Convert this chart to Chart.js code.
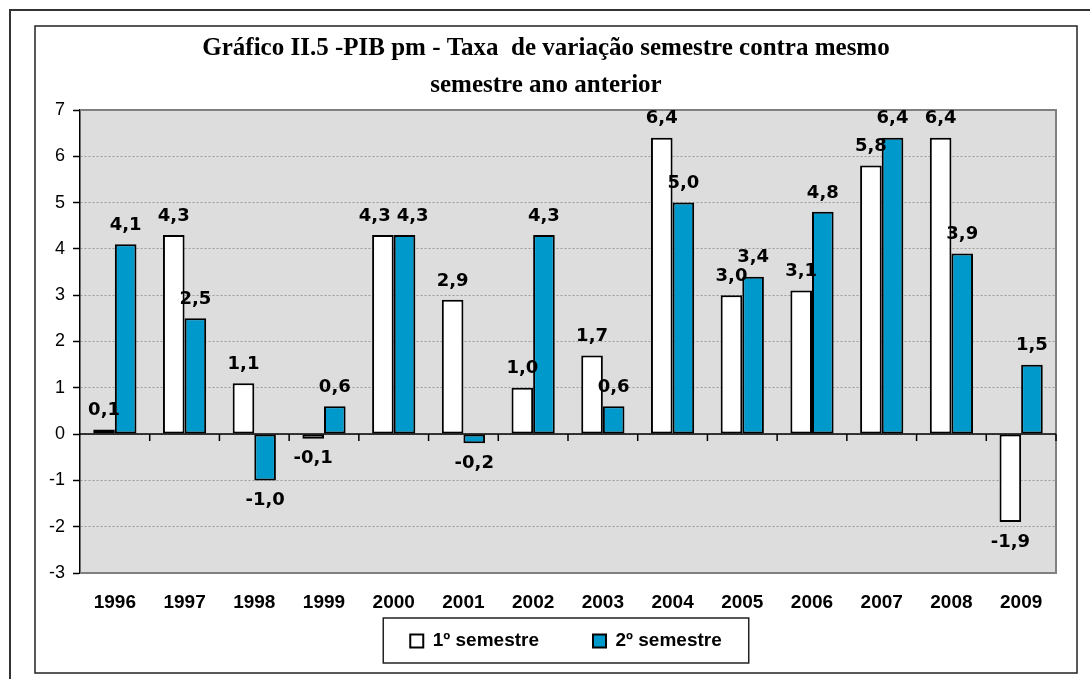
<!DOCTYPE html>
<html>
<head>
<meta charset="utf-8">
<title>PIB pm - Taxa de variação semestral</title>
<script src="https://cdn.jsdelivr.net/npm/chart.js@4/dist/chart.umd.min.js"></script>
<style>
  html, body { margin: 0; padding: 0; background: #fff; }
  #wrap { width: 1090px; height: 679px; }
</style>
</head>
<body>
<div id="wrap"><canvas id="pibChart" width="1090" height="679"></canvas></div>
<script>
// Data
const years = ['1996', '1997', '1998', '1999', '2000', '2001', '2002', '2003', '2004', '2005', '2006', '2007', '2008', '2009'];
const sem1 = [0.1, 4.3, 1.1, -0.1, 4.3, 2.9, 1.0, 1.7, 6.4, 3.0, 3.1, 5.8, 6.4, -1.9];
const sem2 = [4.1, 2.5, -1.0, 0.6, 4.3, -0.2, 4.3, 0.6, 5.0, 3.4, 4.8, 6.4, 3.9, 1.5];
const yMin = -3;
const yMax = 7;
const yStep = 1;

const titleLines = ['Gráfico II.5 -PIB pm - Taxa  de variação semestre contra mesmo', 'semestre ano anterior'];
const seriesNames = ['1º semestre', '2º semestre'];

const blue = '#0099cc';

function fmt(v) {
    return v.toFixed(1).replace('.', ',');
}

// Frames, plot background, zero axis, value labels, legend box
const chartDecor = {
    id: 'chartDecor',
    afterLayout(chart) {
        // move the legend row up into the space under the year labels
        // (only the top moves, the legend clips to its own box)
        chart.legend.left += 20;
        chart.legend.right += 20;
        chart.legend.top -= 40.5;
    },
    beforeDraw(chart) {
        const ctx = chart.ctx;
        const a = chart.chartArea;
        ctx.save();
        ctx.fillStyle = '#fff';
        ctx.fillRect(0, 0, chart.width, chart.height);

        // outer frame (only top and left are visible)
        ctx.strokeStyle = '#333';
        ctx.lineWidth = 2;
        ctx.beginPath();
        ctx.moveTo(10, chart.height);
        ctx.lineTo(10, 10);
        ctx.lineTo(chart.width, 10);
        ctx.stroke();

        // chart frame
        ctx.lineWidth = 1.5;
        ctx.strokeStyle = '#222';
        ctx.strokeRect(35, 26, 1042, 647);

        // plot area
        ctx.fillStyle = '#dddddd';
        ctx.fillRect(a.left, a.top, a.right - a.left, a.bottom - a.top);
        ctx.restore();
    },
    beforeDatasetsDraw(chart) {
        const ctx = chart.ctx;
        const a = chart.chartArea;
        ctx.save();
        ctx.strokeStyle = '#808080';
        ctx.lineWidth = 2;
        ctx.beginPath();
        ctx.moveTo(a.left, a.top);
        ctx.lineTo(a.right, a.top);
        ctx.lineTo(a.right, a.bottom);
        ctx.lineTo(a.left, a.bottom);
        ctx.stroke();
        ctx.restore();
    },
    afterDatasetsDraw(chart) {
        const ctx = chart.ctx;
        const a = chart.chartArea;
        const zeroY = chart.scales.y.getPixelForValue(0);
        ctx.save();

        // category axis at zero, with tick marks between the years
        ctx.strokeStyle = '#000';
        ctx.lineWidth = 1.5;
        ctx.beginPath();
        ctx.moveTo(a.left, zeroY);
        ctx.lineTo(a.right, zeroY);
        const step = (a.right - a.left) / years.length;
        for (let i = 1; i <= years.length; i++) {
            const x = a.left + i * step;
            ctx.moveTo(x, zeroY);
            ctx.lineTo(x, zeroY + 7);
        }
        ctx.stroke();

        // value labels, above positive bars and below negative ones
        ctx.fillStyle = '#000';
        ctx.font = 'bold 18px "DejaVu Sans", Verdana, sans-serif';
        ctx.textAlign = 'center';
        ctx.textBaseline = 'middle';
        const bars1 = chart.getDatasetMeta(0).data;
        const bars2 = chart.getDatasetMeta(1).data;
        years.forEach((yr, i) => {
            const b1 = bars1[i];
            const b2 = bars2[i];
            const y1 = sem1[i] >= 0 ? b1.y - 19 : b1.y + 20;
            const y2 = sem2[i] >= 0 ? b2.y - 19 : b2.y + 20;
            // push the two labels apart when they would sit on top of each other
            let dx = 0;
            if (Math.abs(y1 - y2) < 16) {
                const w = (ctx.measureText(fmt(sem1[i])).width + ctx.measureText(fmt(sem2[i])).width) / 2;
                dx = Math.max(0, (w + 6 - (b2.x - b1.x)) / 2);
            }
            ctx.fillText(fmt(sem1[i]), b1.x - dx, y1);
            ctx.fillText(fmt(sem2[i]), b2.x + dx, y2);
        });
        ctx.restore();
    },
    afterDraw(chart) {
        const legend = chart.legend;
        const boxes = legend.legendHitBoxes;
        if (!boxes || !boxes.length) return;
        const first = boxes[0];
        const last = boxes[boxes.length - 1];
        const cy = first.top + first.height / 2;
        const ctx = chart.ctx;
        ctx.save();
        ctx.strokeStyle = '#222';
        ctx.lineWidth = 1.5;
        ctx.strokeRect(first.left - 27, cy - 23, (last.left + last.width + 27) - (first.left - 27), 45);
        ctx.restore();
    }
};

const ctx = document.getElementById('pibChart').getContext('2d');

new Chart(ctx, {
    type: 'bar',
    data: {
        labels: years,
        datasets: [
            {
                label: seriesNames[0],
                data: sem1,
                backgroundColor: '#ffffff',
                borderColor: '#000',
                borderWidth: 2,
                borderSkipped: false,
            },
            {
                label: seriesNames[1],
                data: sem2,
                backgroundColor: blue,
                borderColor: '#000',
                borderWidth: 2,
                borderSkipped: false,
            },
        ],
    },
    options: {
        responsive: false,
        animation: false,
        devicePixelRatio: 1,
        datasets: {
            bar: {
                categoryPercentage: 0.62,
                barPercentage: 1.0,
            },
        },
        layout: {
            padding: { left: 36, right: 34, top: 23.5, bottom: 18.5 },
        },
        plugins: {
            title: {
                display: true,
                text: titleLines,
                color: '#000',
                font: { family: '"Liberation Serif", "Times New Roman", serif', size: 25, weight: 'bold', lineHeight: 1.48 },
                padding: { top: 7, bottom: 5.5 },
            },
            legend: {
                position: 'bottom',
                maxHeight: 42.5,
                labels: {
                    boxWidth: 13,
                    boxHeight: 13,
                    padding: 54,
                    color: '#000',
                    font: { family: '"Liberation Sans", Arial, sans-serif', size: 19, weight: 'bold' },
                },
            },
            tooltip: { enabled: false },
        },
        scales: {
            x: {
                grid: { display: false, drawTicks: false },
                border: { display: false },
                ticks: {
                    color: '#000',
                    padding: 18.3,
                    font: { family: '"Liberation Sans", Arial, sans-serif', size: 19, weight: 'bold' },
                },
                afterFit(scale) {
                    scale.height = 45;
                },
            },
            y: {
                min: yMin,
                max: yMax,
                grid: {
                    color: '#9a9a9a',
                    lineWidth: 1,
                    tickColor: '#000',
                    tickLength: 7,
                    tickWidth: 1.5,
                },
                border: { display: true, color: '#000', width: 1.5, dash: [2, 2] },
                ticks: {
                    stepSize: yStep,
                    color: '#000',
                    padding: 8,
                    font: { family: '"Liberation Sans", Arial, sans-serif', size: 18 },
                },
                afterFit(scale) {
                    scale.width = 44;
                },
            },
        },
    },
    plugins: [chartDecor],
});
</script>
</body>
</html>
